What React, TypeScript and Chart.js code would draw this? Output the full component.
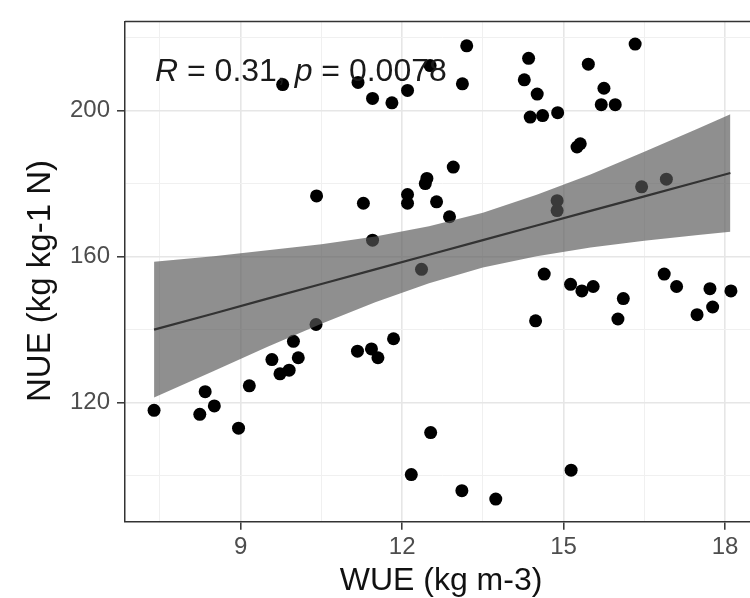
import { useEffect, useRef } from "react";
import { Chart, registerables } from "chart.js";

Chart.register(...registerables);

// Scatter data
const wue = [
  7.39, 8.24, 8.34, 8.51, 8.96, 9.16, 9.58, 9.73, 9.9, 9.98, 10.07, 10.4, 9.78, 10.41,
  11.17, 11.43, 11.55, 11.84, 11.18, 11.45, 11.81, 12.1, 12.52, 11.28, 12.1, 12.1, 12.46,
  12.43, 12.64, 11.45, 12.36, 12.17, 12.53, 13.11, 13.74, 13.2, 13.12, 12.95, 12.88, 14.35,
  14.27, 14.51, 14.38, 14.61, 14.89, 15.46, 15.75, 15.7, 15.96, 16.33, 15.25, 15.31, 14.88,
  14.88, 16.45, 16.91, 15.14, 14.64, 14.48, 15.13, 15.34, 15.55, 16.11, 16.01, 16.87, 17.1,
  17.48, 17.72, 17.77, 18.11,
];
const nue = [
  117.9, 116.8, 123.0, 119.1, 113.0, 124.6, 131.8, 127.9, 128.9, 136.8, 132.3, 141.4, 207.1, 176.6,
  134.1, 134.7, 132.3, 137.5, 207.7, 203.3, 202.1, 205.5, 212.3, 174.6, 177.0, 174.6, 181.4,
  180.0, 175.0, 164.5, 156.5, 100.3, 111.8, 95.9, 93.6, 217.7, 207.3, 184.5, 170.9, 214.3,
  208.4, 204.5, 198.2, 198.6, 199.4, 212.7, 206.1, 201.6, 201.6, 218.2, 190.0, 190.9, 175.3,
  172.6, 179.1, 181.2, 101.5, 155.2, 142.4, 152.4, 150.6, 151.8, 148.5, 142.9, 155.2, 151.8,
  144.1, 151.2, 146.2, 150.6,
];

// Regression line and confidence band
const fitX = [7.39, 8.5, 9.5, 10.5, 11.5, 12.5, 13.5, 14.5, 15.5, 16.5, 17.5, 18.1];
const fitY = [140.0, 144.4, 148.5, 152.5, 156.5, 160.5, 164.5, 168.5, 172.5, 176.5, 180.5, 182.9];
const fitUpper = [158.6, 160.1, 161.7, 163.4, 165.5, 168.3, 172.0, 176.9, 182.5, 188.7, 195.1, 199.0];
const fitLower = [121.4, 128.7, 135.3, 141.6, 147.5, 152.7, 157.0, 160.1, 162.5, 164.3, 165.9, 166.8];

const xMajorTicks = [9, 12, 15, 18];
const xMinorTicks = [7.5, 10.5, 13.5, 16.5];
const yMajorTicks = [120, 160, 200];
const yMinorTicks = [100, 140, 180, 220];

const xTitle = "WUE (kg m-3)";
const yTitle = "NUE (kg kg-1 N)";
const statParts = ["R", " = 0.31, ", "p", " = 0.0078"];
const statItalic = [true, false, true, false];

const FONT = '"Liberation Sans", Arial, sans-serif';

export default function App() {
  const ref = useRef<HTMLCanvasElement | null>(null);

  useEffect(() => {
    if (!ref.current) return;

    const textPlugin = {
      id: "texts",
      afterDatasetsDraw(chart: any) {
        const { ctx } = chart;
        ctx.save();
        let x = 155;
        const y = 81;
        ctx.fillStyle = "#1a1a1a";
        ctx.textBaseline = "alphabetic";
        ctx.textAlign = "left";
        statParts.forEach((t, i) => {
          ctx.font = `${statItalic[i] ? "italic " : ""}32px ${FONT}`;
          ctx.fillText(t, x, y);
          x += ctx.measureText(t).width;
        });
        ctx.restore();
      },
      afterDraw(chart: any) {
        const { ctx, chartArea } = chart;
        ctx.save();
        ctx.strokeStyle = "#333333";
        ctx.lineWidth = 1.5;
        ctx.beginPath();
        ctx.moveTo(chartArea.left, chartArea.top);
        ctx.lineTo(chartArea.right, chartArea.top);
        ctx.lineTo(chartArea.right, chartArea.bottom);
        ctx.stroke();

        // axis titles
        ctx.fillStyle = "#111111";
        ctx.textAlign = "center";
        ctx.textBaseline = "alphabetic";
        ctx.font = `32px ${FONT}`;
        ctx.fillText(xTitle, 441, 590);
        ctx.translate(50, 281);
        ctx.rotate(-Math.PI / 2);
        ctx.font = `33px ${FONT}`;
        ctx.fillText(yTitle, 0, 0);
        ctx.restore();
      },
    };

    const points = wue.map((x, i) => ({ x, y: nue[i] }));
    const upper = fitX.map((x, i) => ({ x, y: fitUpper[i] }));
    const lower = fitX.map((x, i) => ({ x, y: fitLower[i] }));
    const line = fitX.map((x, i) => ({ x, y: fitY[i] }));

    const xTicksAll = [...xMajorTicks, ...xMinorTicks].sort((a, b) => a - b);
    const yTicksAll = [...yMajorTicks, ...yMinorTicks].sort((a, b) => a - b);

    const chart = new Chart(ref.current, {
      type: "scatter",
      data: {
        datasets: [
          {
            type: "line",
            data: line,
            borderColor: "#333333",
            borderWidth: 2.2,
            pointRadius: 0,
            fill: false,
            order: 0,
          } as any,
          {
            type: "line",
            data: upper,
            borderWidth: 0,
            borderColor: "rgba(0,0,0,0)",
            pointRadius: 0,
            fill: "+1",
            backgroundColor: "rgba(87,87,87,0.667)",
            order: 1,
          } as any,
          {
            type: "line",
            data: lower,
            borderWidth: 0,
            borderColor: "rgba(0,0,0,0)",
            pointRadius: 0,
            fill: false,
            order: 1,
          } as any,
          {
            data: points,
            backgroundColor: "#000000",
            borderColor: "#000000",
            pointRadius: 6.5,
            borderWidth: 0,
            order: 2,
          },
        ],
      },
      options: {
        animation: false,
        responsive: false,
        devicePixelRatio: 1,
        layout: { padding: { top: 21, right: 10, left: 0, bottom: 0 } },
        plugins: { legend: { display: false }, tooltip: { enabled: false } },
        scales: {
          x: {
            type: "linear",
            min: 6.85,
            max: 18.65,
            afterBuildTicks: (s: any) => {
              s.ticks = xTicksAll.map((v) => ({ value: v }));
            },
            afterFit: (s: any) => {
              s.height = 76.3;
            },
            ticks: {
              autoSkip: false,
              maxRotation: 0,
              color: "#4d4d4d",
              font: { family: FONT, size: 24 },
              padding: 3,
              callback: (v: any) => (xMajorTicks.includes(Number(v)) ? String(v) : ""),
            },
            grid: {
              color: (c: any) => (xMajorTicks.includes(c.tick?.value) ? "#e6e6e6" : "#f0f0f0"),
              lineWidth: (c: any) => (xMajorTicks.includes(c.tick?.value) ? 1.6 : 1),
              tickLength: 8,
              tickColor: (c: any) => (xMajorTicks.includes(c.tick?.value) ? "#333333" : "rgba(0,0,0,0)"),
              tickWidth: 1.5,
            },
            border: { display: true, color: "#333333", width: 1.5 },
            title: { display: false },
          },
          y: {
            type: "linear",
            min: 87.4,
            max: 224.4,
            afterBuildTicks: (s: any) => {
              s.ticks = yTicksAll.map((v) => ({ value: v }));
            },
            afterFit: (s: any) => {
              s.width = 125;
            },
            ticks: {
              autoSkip: false,
              color: "#4d4d4d",
              font: { family: FONT, size: 24 },
              padding: 7,
              callback: (v: any) => (yMajorTicks.includes(Number(v)) ? String(v) : ""),
            },
            grid: {
              color: (c: any) => (yMajorTicks.includes(c.tick?.value) ? "#e6e6e6" : "#f0f0f0"),
              lineWidth: (c: any) => (yMajorTicks.includes(c.tick?.value) ? 1.6 : 1),
              tickLength: 8,
              tickColor: (c: any) => (yMajorTicks.includes(c.tick?.value) ? "#333333" : "rgba(0,0,0,0)"),
              tickWidth: 1.5,
            },
            border: { display: true, color: "#333333", width: 1.5 },
            title: { display: false },
          },
        },
      },
      plugins: [textPlugin],
    } as any);

    return () => chart.destroy();
  }, []);

  return (
    <div
      style={{
        position: "fixed",
        left: 0,
        top: 0,
        width: 750,
        height: 598,
        overflow: "hidden",
        background: "#ffffff",
      }}
    >
      <canvas ref={ref} width={770} height={598} style={{ width: 770, height: 598, display: "block" }} />
    </div>
  );
}
